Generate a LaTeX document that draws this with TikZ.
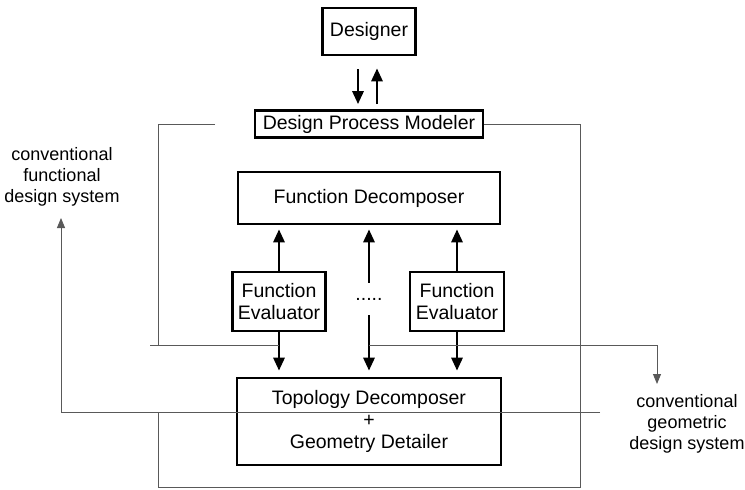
\documentclass[tikz,border=0pt]{standalone}
\usepackage{fontspec}
\setmainfont{Liberation Sans}
\usepackage{tikz}
\usetikzlibrary{arrows.meta,calc}
\newcommand\boxfont{\fontsize{19.5}{22}\selectfont}
\newcommand\lblfont{\fontsize{18}{21}\selectfont}

\begin{document}
\begin{tikzpicture}[x=1pt,y=-1pt,
  bx/.style={draw,line width=2.6pt,align=center,inner sep=0pt,font=\boxfont},
  lbl/.style={align=center,font=\lblfont},
  thk/.style={line width=2.8pt,-{Triangle[width=11pt,length=13pt]}},
  thn/.style={draw=black!65,line width=0.9pt},
  thnarr/.style={thn,-{Triangle[width=8pt,length=10pt]}}]
  \useasboundingbox (0,0) rectangle (745,490);
  % boxes
  \node[bx,minimum width=93pt,minimum height=47pt] (designer) at (369,31.5) {Designer};
  \node[bx,minimum width=228pt,minimum height=27pt] (dpm) at (369,124) {Design Process Modeler};
  \node[bx,minimum width=262pt,minimum height=52pt] (fd) at (369,198) {Function Decomposer};
  \node[bx,minimum width=93pt,minimum height=59pt] (fe1) at (279,301.5) {Function\\Evaluator};
  \node[bx,minimum width=94pt,minimum height=59pt] (fe2) at (457,301.5) {Function\\Evaluator};
  \node[font=\boxfont,inner sep=0pt,minimum height=32pt] (dots) at (369,299) {.....};
  \node[bx,minimum width=264pt,minimum height=87pt] (topo) at (369,421.5)
    {Topology Decomposer\\+\\Geometry Detailer};
  \node[lbl] (func) at (62,177) {conventional\\functional\\design system};
  \node[lbl] (geo) at (687,424) {conventional\\geometric\\design system};
  \coordinate (lvl) at (0,345);
  \coordinate (gend) at (657,384);
  \coordinate (fend) at (61,218);

  % designer <-> modeler
  \draw[thk,shorten <=13pt,shorten >=5pt] ([xshift=-11pt]designer.south) -- ([xshift=-11pt]dpm.north);
  \draw[thk,shorten <=5pt,shorten >=12pt] ([xshift=8pt]dpm.north) -- ([xshift=8pt]designer.south);
  % evaluators
  \draw[thk,shorten >=4pt] (fe1.north) -- (fe1.north |- fd.south);
  \draw[thk,shorten >=6pt] (fe1.south) -- (fe1.south |- topo.north);
  \draw[thk,shorten >=4pt] (fe2.north) -- (fe2.north |- fd.south);
  \draw[thk,shorten >=6pt] (fe2.south) -- (fe2.south |- topo.north);
  \draw[thk,shorten >=4pt] (dots.north) -- (dots.north |- fd.south);
  \draw[thk,shorten >=6pt] (dots.south) -- (dots.south |- topo.north);

  % system boundary
  \draw[thn] (dpm.east) -- (580,124) |- (158,487) -- (158,412);
  \draw[thn] (215,124) -| (158,345);
  \draw[thn] (150,345) -- (fe1.south |- lvl);
  % to conventional systems
  \draw[thnarr] (dots.south |- lvl) -| (gend);
  \draw[thnarr] (600,412) -| (fend);
\end{tikzpicture}
\end{document}
